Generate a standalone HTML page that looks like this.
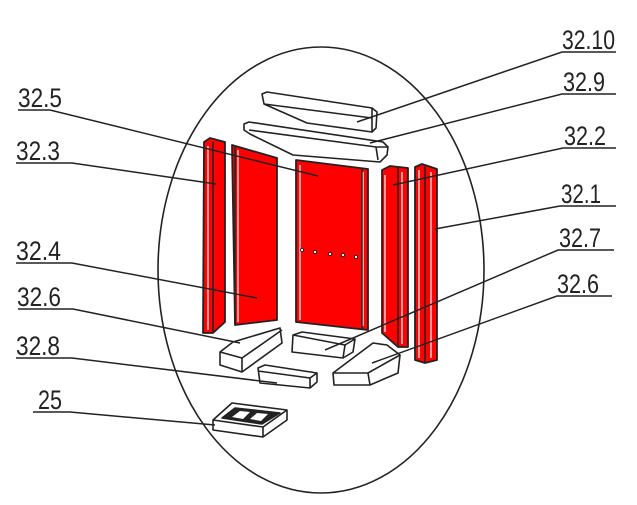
<!DOCTYPE html>
<html><head><meta charset="utf-8"><style>
html,body{margin:0;padding:0;background:#fff;}
svg{display:block}
text{font-family:"Liberation Sans",sans-serif;font-size:27px;fill:#222;}
</style></head><body>
<svg width="637" height="505" viewBox="0 0 637 505" xmlns="http://www.w3.org/2000/svg">
<g fill="none" stroke="#222" stroke-width="1.6">
<ellipse cx="321" cy="270" rx="163" ry="223"/>
</g>
<!-- red panels -->
<g stroke="#222" stroke-width="1.8" stroke-linejoin="round">
 <polygon points="204,142 210,138 225,142 225,322 213,333 203,333" fill="#f00"/>
 <polygon points="232,145 277,158 277,320 235,325" fill="#f00"/>
 <polygon points="296,160 368,169 368,330 296,322" fill="#f00"/>
 <polygon points="382,170 390,166 408,168 408,347 398,347 382,333" fill="#f00"/>
 <polygon points="415,167 422,164 437,169 437,360 425,363 415,360" fill="#f00"/>
</g>
<g stroke="#fff" stroke-width="1.2" fill="none">
 <line x1="208" y1="146" x2="208" y2="330"/>
 <line x1="238" y1="150" x2="238" y2="322"/>
 <line x1="300" y1="165" x2="300" y2="320"/>
 <line x1="363" y1="172" x2="363" y2="326"/>
 <line x1="385" y1="175" x2="385" y2="332"/>
 <line x1="402" y1="172" x2="402" y2="344"/>
 <line x1="419" y1="170" x2="419" y2="358"/>
 <line x1="431" y1="172" x2="431" y2="358"/>
</g>
<g stroke="#222" stroke-width="1.5" fill="none">
 <line x1="213" y1="142" x2="213" y2="333"/>
 <line x1="235" y1="147" x2="235" y2="325"/>
 <line x1="362" y1="168" x2="362" y2="330"/>
 <line x1="398" y1="168" x2="398" y2="347"/>
 <line x1="425" y1="166" x2="425" y2="363"/>
</g>
<g fill="#fff" stroke="#222" stroke-width="1">
 <circle cx="302" cy="250" r="1.6"/><circle cx="315" cy="252" r="1.6"/><circle cx="330" cy="254" r="1.6"/><circle cx="343" cy="255" r="1.6"/><circle cx="356" cy="257" r="1.6"/>
</g>
<!-- bricks -->
<g fill="#fff" stroke="#222" stroke-width="1.6" stroke-linejoin="round">
 <polygon points="262,94 267,92 372,108 377,112 376,128 372,132 307,123 264,104"/>
 <polyline points="264,104 372,118" fill="none"/>
 <line x1="372" y1="108" x2="372" y2="132"/>
 <polygon points="244,124 249,122 383,142 388,147 387,155 380,162 293,155 250,134 244,130"/>
 <polyline points="249,130 376,147 388,147" fill="none"/>
 <line x1="376" y1="147" x2="378" y2="160"/>
 <polygon points="220,352 233,342 280,328 282,343 242,372 220,365"/>
 <polyline points="220,352 242,358 282,330" fill="none"/>
 <line x1="242" y1="358" x2="242" y2="372"/>
 <polygon points="293,335 302,332 355,339 353,352 343,358 292,352"/>
 <polyline points="293,335 345,345 355,339" fill="none"/>
 <line x1="345" y1="345" x2="343" y2="358"/>
 <polygon points="333,373 373,343 387,345 400,355 398,373 370,385 334,385"/>
 <polyline points="333,373 368,373 400,355" fill="none"/>
 <line x1="368" y1="373" x2="370" y2="385"/>
 <polygon points="258,368 265,365 317,373 317,382 310,388 260,383"/>
 <polyline points="258,371 310,378 317,373" fill="none"/>
 <line x1="310" y1="378" x2="310" y2="388"/>
 <polygon points="213,420 232,403 287,410 287,420 263,437 213,430"/>
 <polyline points="213,420 263,427 287,410" fill="none"/>
 <line x1="263" y1="427" x2="263" y2="437"/>
 <polygon points="222,418 235,408 280,413 262,424" fill="#222"/>
 <polygon points="232,417 240,411 250,412 243,419" fill="#fff" stroke="none"/>
 <polygon points="250,419 257,413 268,414 261,421" fill="#fff" stroke="none"/>
</g>
<!-- leaders -->
<g stroke="#222" stroke-width="1.5" fill="none">
 <polyline points="18,110 50,110 318,176"/>
 <polyline points="16,163 72,163 216,184"/>
 <polyline points="16,263 72,263 257,298"/>
 <polyline points="18,309 73,309 240,343"/>
 <polyline points="16,358 72,358 277,383"/>
 <polyline points="33,412 70,412 215,425"/>
 <polyline points="616,52 562,52 357,122"/>
 <polyline points="616,94 562,94 370,143"/>
 <polyline points="616,148 563,148 393,185"/>
 <polyline points="616,206 560,206 435,229"/>
 <polyline points="614,250 558,250 325,350"/>
 <polyline points="612,296 557,296 372,363"/>
</g>
<g>
 <text x="18" y="107" textLength="44" lengthAdjust="spacingAndGlyphs">32.5</text>
 <text x="16" y="160" textLength="44" lengthAdjust="spacingAndGlyphs">32.3</text>
 <text x="16" y="260" textLength="45" lengthAdjust="spacingAndGlyphs">32.4</text>
 <text x="17" y="306" textLength="44" lengthAdjust="spacingAndGlyphs">32.6</text>
 <text x="16" y="355" textLength="44" lengthAdjust="spacingAndGlyphs">32.8</text>
 <text x="38" y="409" textLength="24" lengthAdjust="spacingAndGlyphs">25</text>
 <text x="562" y="49" textLength="53" lengthAdjust="spacingAndGlyphs">32.10</text>
 <text x="563" y="91" textLength="42" lengthAdjust="spacingAndGlyphs">32.9</text>
 <text x="564" y="145" textLength="42" lengthAdjust="spacingAndGlyphs">32.2</text>
 <text x="561" y="203" textLength="40" lengthAdjust="spacingAndGlyphs">32.1</text>
 <text x="559" y="247" textLength="42" lengthAdjust="spacingAndGlyphs">32.7</text>
 <text x="557" y="293" textLength="42" lengthAdjust="spacingAndGlyphs">32.6</text>
</g>
</svg>
</body></html>
